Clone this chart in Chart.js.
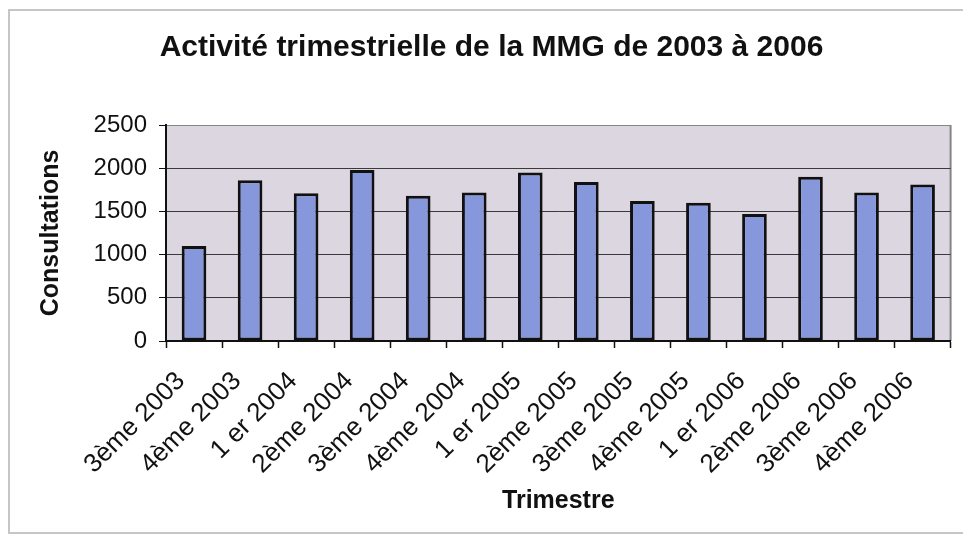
<!DOCTYPE html>
<html>
<head>
<meta charset="utf-8">
<script src="https://cdn.jsdelivr.net/npm/chart.js@4/dist/chart.umd.min.js"></script>
<style>
  html, body { margin: 0; padding: 0; background: #fff; overflow: hidden; }
  #frame {
    position: absolute; left: 8px; top: 9px; width: 1000px; height: 521px;
    border: 2px solid #c6c6c6;
  }
  #chart { position: absolute; left: 0; top: 0; }
</style>
</head>
<body>
<div id="frame"></div>
<canvas id="chart" width="963" height="538"></canvas>
<script>
// quarters and number of consultations per quarter
const trimestres = [
  "3ème 2003", "4ème 2003",
  "1 er 2004", "2ème 2004", "3ème 2004", "4ème 2004",
  "1 er 2005", "2ème 2005", "3ème 2005", "4ème 2005",
  "1 er 2006", "2ème 2006", "3ème 2006", "4ème 2006"
];
const consultations = [1100, 1860, 1710, 1980, 1680, 1720, 1950, 1840, 1620, 1600, 1470, 1900, 1720, 1810];
const yMin = 0;
const yMax = 2500;
const yStep = 500;

const FONT = "'Liberation Sans', Arial, sans-serif";

// grey plot background + grey right edge, like the old Excel charts
const plotArea = {
  id: "plotArea",
  beforeDraw(chart) {
    const { ctx, chartArea: a } = chart;
    ctx.save();
    ctx.fillStyle = "#dbd6e0";
    ctx.fillRect(a.left, a.top, a.right - a.left, a.bottom - a.top);
    ctx.strokeStyle = "#858585";
    ctx.lineWidth = 2;
    ctx.beginPath();
    ctx.moveTo(a.right, a.top);
    ctx.lineTo(a.right, a.bottom);
    ctx.stroke();
    ctx.restore();
  }
};

const ctx = document.getElementById("chart").getContext("2d");
new Chart(ctx, {
  type: "bar",
  data: {
    labels: trimestres,
    datasets: [
      {
        label: "Consultations",
        data: consultations,
        backgroundColor: "#8797dc",
        borderColor: "#111",
        borderWidth: 3,
        borderSkipped: false,
        categoryPercentage: 1,
        barPercentage: 0.44,
      },
    ],
  },
  options: {
    responsive: false,
    animation: false,
    layout: { padding: { left: 30, right: 10, top: 10, bottom: 10 } },
    scales: {
      x: {
        offset: true,
        grid: { drawOnChartArea: false, tickLength: 7, tickColor: "#111", tickWidth: 1.5 },
        border: { color: "#111", width: 2 },
        ticks: {
          autoSkip: false,
          minRotation: 45,
          maxRotation: 45,
          padding: 18,
          labelOffset: -13,
          color: "#111",
          font: { family: FONT, size: 26 },
        },
        title: {
          display: true,
          text: "Trimestre",
          color: "#111",
          font: { family: FONT, size: 25, weight: "bold" },
          padding: { top: 0, bottom: 12 },
        },
        afterFit: (scale) => { scale.height = 187; },
      },
      y: {
        min: yMin,
        max: yMax,
        grid: {
          color: (c) => (c.tick && c.tick.value === yMax ? "#858585" : "#3a3a3a"),
          lineWidth: 1,
          tickLength: 7,
          tickColor: "#111",
        },
        border: { color: "#111", width: 2 },
        ticks: {
          stepSize: yStep,
          padding: 12,
          color: "#111",
          font: { family: FONT, size: 24 },
          callback: (v) => String(v),
        },
        title: {
          display: true,
          text: "Consultations",
          color: "#111",
          font: { family: FONT, size: 25, weight: "bold" },
          padding: { top: 6, bottom: 0 },
        },
        afterFit: (scale) => { scale.width = 136; },
      },
    },
    plugins: {
      legend: { display: false },
      tooltip: { enabled: false },
      title: {
        display: true,
        text: "Activité trimestrielle de la MMG de 2003 à 2006",
        color: "#111",
        font: { family: FONT, size: 30, weight: "bold" },
        padding: { top: 20, bottom: 59 },
      },
    },
  },
  plugins: [plotArea],
});
</script>
</body>
</html>
